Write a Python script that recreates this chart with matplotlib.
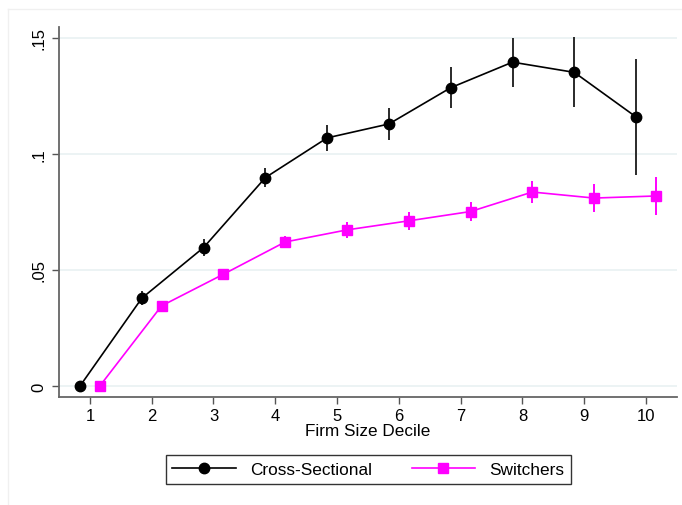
import matplotlib.pyplot as plt
from matplotlib.lines import Line2D
import numpy as np

plt.rcParams['font.family'] = ['Liberation Sans', 'DejaVu Sans']

# Firm size deciles
deciles = [1, 2, 3, 4, 5, 6, 7, 8, 9, 10]

# Cross-sectional estimates and error half-widths
cross = [0.0, 0.0378, 0.0596, 0.0897, 0.1068, 0.1128, 0.1284, 0.1394, 0.1350, 0.1158]
cross_err = [0.0, 0.003, 0.0037, 0.004, 0.0057, 0.0068, 0.0087, 0.0106, 0.0151, 0.025]

# Switchers estimates and error half-widths
switch = [0.0, 0.0345, 0.0481, 0.0620, 0.0672, 0.0711, 0.0751, 0.0835, 0.0809, 0.0818]
switch_err = [0.0, 0.002, 0.002, 0.0025, 0.0033, 0.0038, 0.0042, 0.0047, 0.006, 0.0083]

yticks = [0, 0.05, 0.1, 0.15]
ytick_labels = ["0", ".05", ".1", ".15"]

fig = plt.figure(figsize=(6.82, 5.06), dpi=100)
ax = fig.add_axes([0.0865, 0.214, 0.906, 0.731])

x = np.array(deciles)
offset = 0.16

# light horizontal gridlines
for yt in yticks:
    ax.axhline(yt, color='#eaf2f3', lw=1.3, zorder=0)

ax.errorbar(x - offset, cross, yerr=cross_err, color='black', ecolor='#2a2a2a',
            elinewidth=1.4, lw=1.2, marker='o', markersize=7.5, capsize=0, zorder=3)
ax.errorbar(x + offset, switch, yerr=switch_err, color='magenta', ecolor='magenta',
            elinewidth=1.4, lw=1.2, marker='s', markersize=7.5, capsize=0, zorder=3)

ax.set_xlim(0.5, 10.5)
ax.set_ylim(-0.0046, 0.1546)
ax.set_xticks(deciles)
ax.set_yticks(yticks)
ax.set_yticklabels(ytick_labels, rotation=90, va='center')
ax.tick_params(axis='both', labelsize=12, color='#555555', length=5, width=1)
ax.tick_params(axis='x', pad=3)
ax.tick_params(axis='y', pad=4)

for side in ['top', 'right']:
    ax.spines[side].set_visible(False)
for side in ['left', 'bottom']:
    ax.spines[side].set_color('#666666')
    ax.spines[side].set_linewidth(1.3)

ax.set_xlabel("Firm Size Decile", fontsize=12.3, labelpad=0)

handles = [
    Line2D([], [], color='black', marker='o', markersize=7.5, lw=1.2),
    Line2D([], [], color='magenta', marker='s', markersize=7.5, lw=1.2),
]
leg = fig.legend(handles, ["Cross-Sectional", "Switchers"], loc='center',
                 bbox_to_anchor=(0.54, 0.070), ncol=2, fontsize=12.4, frameon=True,
                 fancybox=False, edgecolor='black', handlelength=3.7,
                 columnspacing=2.3, borderpad=0.4)
leg.get_frame().set_linewidth(1.0)

# faint outer graph-region frame
fig.add_artist(Line2D([8 / 682, 8 / 682], [0, 1 - 10 / 506], color='#f0f0f0', lw=1))
fig.add_artist(Line2D([8 / 682, 1], [1 - 10 / 506, 1 - 10 / 506], color='#f0f0f0', lw=1))

fig.savefig("out.png", dpi=100)
